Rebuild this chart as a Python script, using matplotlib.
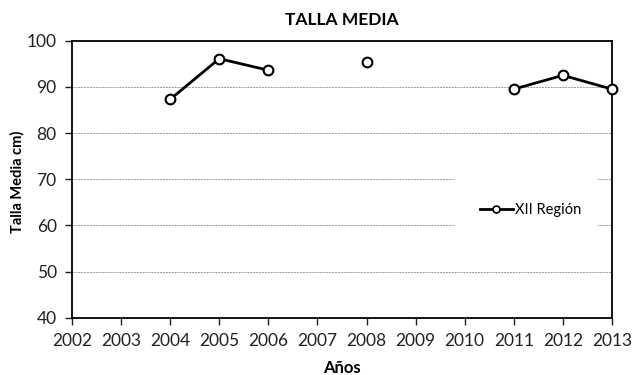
import numpy as np
import matplotlib
matplotlib.use("Agg")
import matplotlib.pyplot as plt
from matplotlib.patches import Rectangle
from matplotlib.lines import Line2D

plt.rcParams['font.family'] = ['Lato', 'DejaVu Sans']

years = [2002, 2003, 2004, 2005, 2006, 2007, 2008, 2009, 2010, 2011, 2012, 2013]
talla = [np.nan, np.nan, 87.3, 96.1, 93.6, np.nan, 95.3, np.nan, np.nan, 89.5, 92.5, 89.5]
series_label = "XII Región"
y_ticks = [40, 50, 60, 70, 80, 90, 100]

fig = plt.figure(figsize=(6.33, 3.75), dpi=100)
ax = fig.add_axes([0.1137, 0.1528, 0.8531, 0.7387])

for y in y_ticks[1:-1]:
    ax.axhline(y, color='#999999', linestyle=(0, (2, 1)), linewidth=0.7, zorder=0)

ax.plot(years, talla, color='black', linewidth=2, marker='o', markersize=7,
        markerfacecolor='white', markeredgecolor='black', markeredgewidth=1.5,
        clip_on=False, zorder=3)

ax.set_xlim(2002, 2013)
ax.set_ylim(40, 100)
ax.set_xticks(years)
ax.set_yticks(y_ticks)
ax.tick_params(axis='both', direction='out', length=5, width=1, labelsize=12.5,
               colors='#222222', labelcolor='#222222')
ax.tick_params(axis='y', pad=6)
ax.tick_params(axis='x', pad=6)
for s in ax.spines.values():
    s.set_color('black')
    s.set_linewidth(1.3)

ax.set_title("TALLA MEDIA", fontsize=12.5, fontweight='bold', pad=11)
ax.set_xlabel("Años", fontsize=12, fontweight='bold', labelpad=8)
ax.set_ylabel("Talla Media cm)", fontsize=10.5, fontweight='bold')
ax.yaxis.set_label_coords(-0.088, 0.49)

# legend area: white box over the gridlines
ax.add_patch(Rectangle((0.709, 0.305), 0.265, 0.215, transform=ax.transAxes,
                       facecolor='white', edgecolor='none', zorder=1))
handle = Line2D([], [], color='black', linewidth=2, marker='o', markersize=5,
                markerfacecolor='white', markeredgecolor='black', markeredgewidth=1.2)
leg = ax.legend([handle], [series_label], loc='center left',
                bbox_to_anchor=(0.755, 0.39), frameon=False, fontsize=10.5,
                handlelength=2.3, borderpad=0, borderaxespad=0, handletextpad=0.15)
leg.set_zorder(2)

fig.savefig("out.png", dpi=100, facecolor='white')
